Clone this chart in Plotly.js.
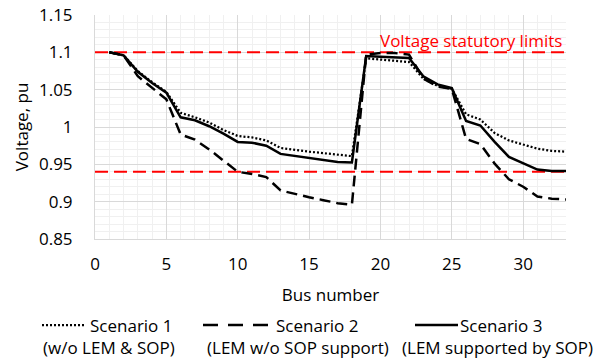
<!DOCTYPE html>
<html>
<head>
<meta charset="utf-8">
<script src="https://cdn.plot.ly/plotly-3.0.1.min.js"></script>
<style>
  html, body { margin: 0; padding: 0; background: #ffffff; }
  #chart { width: 596px; height: 360px; }
</style>
</head>
<body>
<div id="chart"></div>
<script>
// ---- Data ----
const busNumbers = [1,2,3,4,5,6,7,8,9,10,11,12,13,14,15,16,17,18,19,20,21,22,23,24,25,26,27,28,29,30,31,32,33];

const scenario1 = [1.100,1.096,1.075,1.060,1.047,1.019,1.013,1.006,0.996,0.988,0.986,0.982,0.972,0.969,0.967,0.965,0.963,0.961,
                   1.092,1.090,1.089,1.087,1.065,1.055,1.051,1.017,1.010,0.992,0.982,0.976,0.971,0.968,0.967];

const scenario2 = [1.100,1.096,1.068,1.052,1.037,0.990,0.983,0.970,0.955,0.940,0.937,0.933,0.915,0.910,0.906,0.902,0.898,0.896,
                   1.097,1.099,1.099,1.097,1.065,1.054,1.051,0.984,0.977,0.951,0.930,0.920,0.907,0.904,0.903];

const scenario3 = [1.100,1.096,1.074,1.059,1.046,1.013,1.009,1.001,0.991,0.980,0.979,0.975,0.964,0.961,0.958,0.955,0.953,0.9525,
                   1.095,1.094,1.0935,1.0925,1.068,1.057,1.052,1.008,1.002,0.980,0.960,0.952,0.943,0.941,0.941];

const limitX = [0, 33];
const upperLimit = [1.1, 1.1];
const lowerLimit = [0.94, 0.94];

const seriesNames = ["Scenario 1", "Scenario 2", "Scenario 3"];
const seriesNotes = ["(w/o LEM & SOP)", "(LEM w/o SOP support)", "(LEM supported by SOP)"];
const limitLabel = "Voltage statutory limits";
const xTitle = "Bus number";
const yTitle = "Voltage, pu";

// ---- Styling ----
const FONT = "'Open Sans', 'Noto Sans', sans-serif";
const FS = 17;
const RED = "#ff0000";
const styles = [
  {color: "#000000", width: 2.25, dash: "2px,2px"},
  {color: "#000000", width: 2.5, dash: "11px,6px"},
  {color: "#000000", width: 2.5, dash: "solid"}
];
const legendDash = ["2px,2px", "15px,10px", "solid"];

// plot area geometry in px
const M = {l: 95, r: 30, t: 15, b: 121};
const PW = 596 - M.l - M.r, PH = 360 - M.t - M.b;
const px2x = p => (p - M.l) / PW;
const py2y = p => (M.t + PH - p) / PH;

const traces = [
  {x: limitX, y: upperLimit, mode: "lines", line: {color: RED, width: 2, dash: "13px,6px"}, hoverinfo: "skip", showlegend: false},
  {x: limitX, y: lowerLimit, mode: "lines", line: {color: RED, width: 2, dash: "13px,6px"}, hoverinfo: "skip", showlegend: false},
  {x: busNumbers, y: scenario1, name: seriesNames[0], mode: "lines", line: styles[0], showlegend: false},
  {x: busNumbers, y: scenario2, name: seriesNames[1], mode: "lines", line: styles[1], showlegend: false},
  {x: busNumbers, y: scenario3, name: seriesNames[2], mode: "lines", line: styles[2], showlegend: false}
];

// manual two-line legend (sample line + name, note beneath)
const legendItems = [
  {sx0: 42, sx1: 84, tx: 88, nx: 41},
  {sx0: 203, sx1: 270, tx: 274, nx: 205},
  {sx0: 415, sx1: 458, tx: 458, nx: 400}
];
const legendY1 = 325, legendY2 = 347;

const shapes = [];
const annotations = [
  {xref: "x", yref: "y", x: 33, y: 1.1, xanchor: "right", yanchor: "bottom", yshift: -2, xshift: -2,
   text: limitLabel, showarrow: false, font: {family: FONT, size: 17, color: RED}}
];
legendItems.forEach((it, i) => {
  shapes.push({type: "line", xref: "paper", yref: "paper",
    x0: px2x(it.sx0), x1: px2x(it.sx1), y0: py2y(legendY1), y1: py2y(legendY1),
    line: {color: styles[i].color, width: styles[i].width, dash: legendDash[i]}});
  annotations.push({xref: "paper", yref: "paper", x: px2x(it.tx), y: py2y(legendY1),
    xanchor: "left", yanchor: "middle", text: seriesNames[i], showarrow: false,
    font: {family: FONT, size: FS, color: "#000"}});
  annotations.push({xref: "paper", yref: "paper", x: px2x(it.nx), y: py2y(legendY2),
    xanchor: "left", yanchor: "middle", text: seriesNotes[i], showarrow: false,
    font: {family: FONT, size: FS, color: "#000"}});
});

const layout = {
  width: 596, height: 360,
  margin: M,
  paper_bgcolor: "#ffffff", plot_bgcolor: "#ffffff",
  font: {family: FONT, size: FS, color: "#000"},
  showlegend: false,
  xaxis: {
    range: [0, 33], dtick: 5, tick0: 0,
    showgrid: true, gridcolor: "#d9d9d9", gridwidth: 1,
    minor: {dtick: 1, showgrid: true, gridcolor: "#f0f0f0", gridwidth: 1},
    zeroline: false, showline: true, linecolor: "#d9d9d9", linewidth: 1,
    ticks: "", ticklabelstandoff: 10,
    tickfont: {family: FONT, size: FS, color: "#000"},
    title: {text: xTitle, font: {family: FONT, size: FS, color: "#000"}, standoff: 14},
    fixedrange: true
  },
  yaxis: {
    range: [0.85, 1.15], dtick: 0.05, tick0: 0.85,
    showgrid: true, gridcolor: "#d9d9d9", gridwidth: 1,
    minor: {dtick: 0.01, showgrid: true, gridcolor: "#f0f0f0", gridwidth: 1},
    zeroline: false, showline: true, linecolor: "#d9d9d9", linewidth: 1,
    ticks: "", ticklabelstandoff: 18,
    tickfont: {family: FONT, size: FS, color: "#000"},
    title: {text: yTitle, font: {family: FONT, size: FS, color: "#000"}, standoff: 6},
    fixedrange: true
  },
  shapes: shapes,
  annotations: annotations
};

Plotly.newPlot("chart", traces, layout, {displayModeBar: false, staticPlot: true});
</script>
</body>
</html>
